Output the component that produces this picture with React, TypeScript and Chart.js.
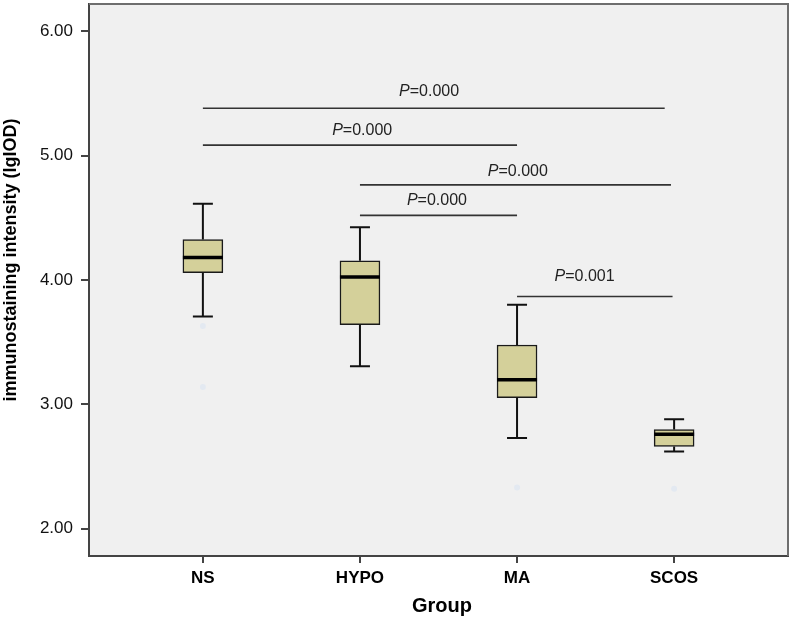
import React, { useEffect, useRef } from "react";
import { Chart, registerables } from "chart.js";

Chart.register(...registerables);

const categories = ["NS", "HYPO", "MA", "SCOS"];
const whiskerMin = [3.707, 3.306, 2.73, 2.621];
const q1 = [4.058, 3.64, 3.053, 2.661];
const median = [4.181, 4.024, 3.197, 2.76];
const q3 = [4.325, 4.154, 3.477, 2.797];
const whiskerMax = [4.613, 4.424, 3.8, 2.88];

const outlierX = [0, 0, 2, 3];
const outlierY = [3.63, 3.14, 2.33, 2.32];

const yTicks = [2, 3, 4, 5, 6];

const sigX1 = [0, 0, 1, 1, 2];
const sigX2 = [2.94, 2, 2.98, 2, 2.99];
const sigY = [5.381, 5.085, 4.765, 4.52, 3.867];
const sigText = ["0.000", "0.000", "0.000", "0.000", "0.001"];
const sigLabelX = [1.44, 1.014, 2.005, 1.49, 2.43];
const sigLabelY = [5.514, 5.202, 4.874, 4.638, 4.026];

const FONT = '"Liberation Sans", Arial, Helvetica, sans-serif';

const boxPlugin = {
  id: "boxExtras",
  beforeDraw(chart: any) {
    const { ctx, chartArea: a } = chart;
    ctx.save();
    ctx.fillStyle = "#f0f0f0";
    ctx.fillRect(a.left, a.top, a.right - a.left, a.bottom - a.top);
    ctx.restore();
  },
  afterDatasetsDraw(chart: any) {
    const { ctx, chartArea: a } = chart;
    const xs = chart.scales.x;
    const ys = chart.scales.y;
    ctx.save();
    ctx.lineCap = "butt";
    categories.forEach((_, i) => {
      const xp = xs.getPixelForValue(i);
      const yMax = ys.getPixelForValue(whiskerMax[i]);
      const yMin = ys.getPixelForValue(whiskerMin[i]);
      const yQ1 = ys.getPixelForValue(q1[i]);
      const yQ3 = ys.getPixelForValue(q3[i]);
      const yMed = ys.getPixelForValue(median[i]);
      ctx.lineWidth = 2;
      ctx.strokeStyle = "#111";
      ctx.beginPath();
      ctx.moveTo(xp, yQ3);
      ctx.lineTo(xp, yMax);
      ctx.moveTo(xp, yQ1);
      ctx.lineTo(xp, yMin);
      ctx.moveTo(xp - 10, yMax);
      ctx.lineTo(xp + 10, yMax);
      ctx.moveTo(xp - 10, yMin);
      ctx.lineTo(xp + 10, yMin);
      ctx.stroke();
      ctx.lineWidth = 3.5;
      ctx.strokeStyle = "#000";
      ctx.beginPath();
      ctx.moveTo(xp - 20, yMed);
      ctx.lineTo(xp + 20, yMed);
      ctx.stroke();
    });
    ctx.strokeStyle = "#333";
    ctx.lineWidth = 1.6;
    sigY.forEach((v, i) => {
      const yp = ys.getPixelForValue(v);
      ctx.beginPath();
      ctx.moveTo(xs.getPixelForValue(sigX1[i]), yp);
      ctx.lineTo(xs.getPixelForValue(sigX2[i]), yp);
      ctx.stroke();
    });
    ctx.fillStyle = "#222";
    ctx.textBaseline = "middle";
    ctx.textAlign = "left";
    sigText.forEach((t, i) => {
      const cx = xs.getPixelForValue(sigLabelX[i]);
      const cy = ys.getPixelForValue(sigLabelY[i]);
      ctx.font = `italic 16px ${FONT}`;
      const wP = ctx.measureText("P").width;
      ctx.font = `16px ${FONT}`;
      const rest = "=" + t;
      const wR = ctx.measureText(rest).width;
      const x0 = cx - (wP + wR) / 2;
      ctx.font = `italic 16px ${FONT}`;
      ctx.fillText("P", x0, cy);
      ctx.font = `16px ${FONT}`;
      ctx.fillText(rest, x0 + wP, cy);
    });
    ctx.strokeStyle = "#6e6e6e";
    ctx.lineWidth = 2;
    ctx.beginPath();
    ctx.moveTo(a.left, a.top);
    ctx.lineTo(a.right, a.top);
    ctx.lineTo(a.right, a.bottom);
    ctx.stroke();
    ctx.fillStyle = "#000";
    ctx.textAlign = "center";
    ctx.textBaseline = "middle";
    ctx.font = `bold 20px ${FONT}`;
    ctx.fillText("Group", 442, 606);
    ctx.save();
    ctx.translate(11, 260);
    ctx.rotate(-Math.PI / 2);
    ctx.font = `bold 18px ${FONT}`;
    ctx.fillText("immunostaining intensity (lgIOD)", 0, 0);
    ctx.restore();
    ctx.restore();
  },
};

export default function App() {
  const ref = useRef<HTMLCanvasElement | null>(null);
  useEffect(() => {
    document.body.style.margin = "0";
    const canvas = ref.current!;
    const chart = new Chart(canvas, {
      type: "bar",
      data: {
        datasets: [
          {
            type: "bar",
            data: categories.map((_, i) => ({ x: i, y: [q1[i], q3[i]] })) as any,
            backgroundColor: "#d4d09a",
            borderColor: "#1a1a1a",
            borderWidth: 1.5,
            borderSkipped: false,
            barThickness: 40,
          } as any,
          {
            type: "scatter",
            data: outlierX.map((x, i) => ({ x, y: outlierY[i] })),
            backgroundColor: "#e3e9f1",
            borderWidth: 0,
            pointRadius: 3,
          } as any,
        ],
      },
      options: {
        animation: false,
        responsive: false,
        maintainAspectRatio: false,
        layout: { padding: { top: -1, right: 2, left: 0, bottom: 0 } },
        plugins: { legend: { display: false }, tooltip: { enabled: false } },
        scales: {
          x: {
            type: "linear",
            min: -0.725,
            max: 3.725,
            offset: false,
            afterBuildTicks: (s: any) => {
              s.ticks = categories.map((_, i) => ({ value: i }));
            },
            afterFit: (s: any) => {
              s.height = 62;
              s.paddingLeft = 0;
              s.paddingRight = 0;
            },
            ticks: {
              callback: (v: any) => categories[v as number] ?? "",
              font: { family: FONT, size: 17, weight: "bold" },
              color: "#000",
              padding: 5,
              maxRotation: 0,
              autoSkip: false,
            },
            grid: {
              offset: false,
              drawOnChartArea: false,
              drawTicks: true,
              tickLength: 7,
              color: "#444",
              lineWidth: 2,
            },
            border: { display: true, color: "#444", width: 2 },
          },
          y: {
            type: "linear",
            min: 1.78,
            max: 6.22,
            afterBuildTicks: (s: any) => {
              s.ticks = yTicks.map((v) => ({ value: v }));
            },
            afterFit: (s: any) => {
              s.width = 89;
              s.paddingTop = 0;
              s.paddingBottom = 0;
            },
            ticks: {
              callback: (v: any) => Number(v).toFixed(2),
              font: { family: FONT, size: 17 },
              color: "#111",
              padding: 8,
            },
            grid: {
              drawOnChartArea: false,
              drawTicks: true,
              tickLength: 8,
              color: "#444",
              lineWidth: 2,
            },
            border: { display: true, color: "#444", width: 2 },
          },
        },
      } as any,
      plugins: [boxPlugin],
    });
    return () => chart.destroy();
  }, []);
  return (
    <div style={{ width: 792, height: 618, background: "#fff" }}>
      <canvas ref={ref} width={792} height={618} style={{ display: "block" }} />
    </div>
  );
}
